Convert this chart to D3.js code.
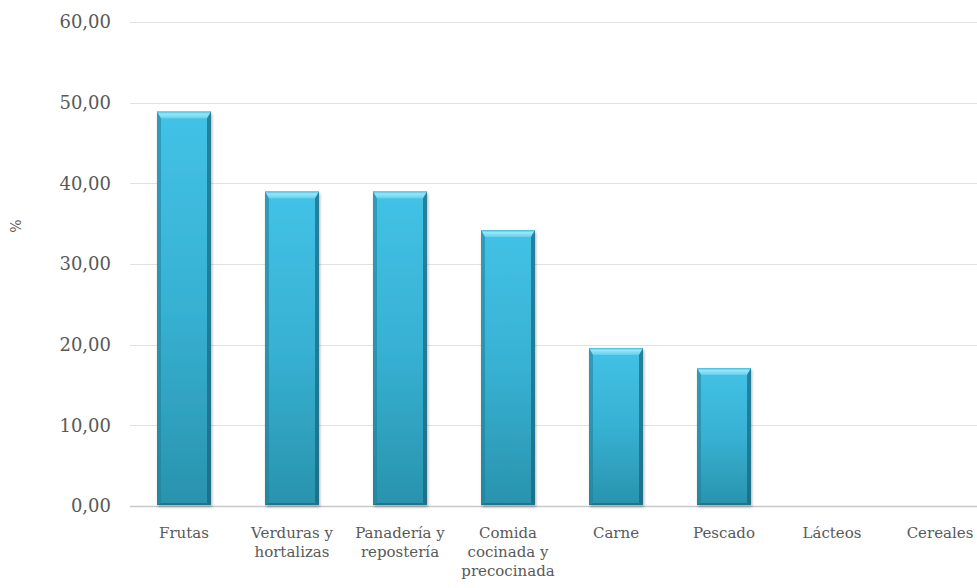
<!DOCTYPE html>
<html>
<head>
<meta charset="utf-8">
<script src="https://cdn.jsdelivr.net/npm/d3@7"></script>
<style>
  html, body { margin: 0; padding: 0; background: #fff; }
  svg { display: block; }
  text { font-family: "DejaVu Serif", "Liberation Serif", serif; fill: #595959; }
</style>
</head>
<body>
<svg id="chart" width="977" height="588"></svg>
<script>
// Food groups and share (%)
const categories = [
  ["Frutas"],
  ["Verduras y", "hortalizas"],
  ["Panadería y", "repostería"],
  ["Comida", "cocinada y", "precocinada"],
  ["Carne"],
  ["Pescado"],
  ["Lácteos"],
  ["Cereales"]
];
const values = [48.9, 39.0, 39.0, 34.2, 19.6, 17.1, 0, 0];
const yTicks = [0, 10, 20, 30, 40, 50, 60];
const yLabel = "%";

const svg = d3.select("#chart");
const W = 977, H = 588;
const margin = { left: 130, top: 22, bottom: 82 };
const keys = categories.map((c, i) => i);

const x = d3.scaleBand().domain(keys).range([margin.left, margin.left + 8 * 108]).paddingInner(0.5).paddingOuter(0.25);
const y = d3.scaleLinear().domain([0, 60]).range([H - margin.bottom, margin.top]);

// Gradients for the bevelled bars
const defs = svg.append("defs");
const gBody = defs.append("linearGradient").attr("id", "body").attr("x1", 0).attr("y1", 0).attr("x2", 0).attr("y2", 1);
gBody.append("stop").attr("offset", "0%").attr("stop-color", "#42c2e6");
gBody.append("stop").attr("offset", "50%").attr("stop-color", "#37b1d3");
gBody.append("stop").attr("offset", "100%").attr("stop-color", "#2993ad");
const gTop = defs.append("linearGradient").attr("id", "topBevel").attr("x1", 0).attr("y1", 0).attr("x2", 0).attr("y2", 1);
gTop.append("stop").attr("offset", "0%").attr("stop-color", "#3fbfe2");
gTop.append("stop").attr("offset", "35%").attr("stop-color", "#9ae6f8");
gTop.append("stop").attr("offset", "100%").attr("stop-color", "#5fd0ee");
const shadow = defs.append("filter").attr("id", "shadow").attr("x", "-20%").attr("y", "-5%").attr("width", "140%").attr("height", "115%");
shadow.append("feGaussianBlur").attr("in", "SourceAlpha").attr("stdDeviation", 1.5);
shadow.append("feOffset").attr("dx", 1).attr("dy", 1.5).attr("result", "b");
shadow.append("feComponentTransfer").append("feFuncA").attr("type", "linear").attr("slope", 0.3);
const merge = shadow.append("feMerge");
merge.append("feMergeNode");
merge.append("feMergeNode").attr("in", "SourceGraphic");

// Gridlines
svg.append("g").selectAll("line").data(yTicks).join("line")
  .attr("x1", margin.left).attr("x2", W)
  .attr("y1", d => Math.round(y(d)) + 0.5).attr("y2", d => Math.round(y(d)) + 0.5)
  .attr("stroke", d => d === 0 ? "#c8c8c8" : "#e2e2e2").attr("stroke-width", d => d === 0 ? 1.5 : 1);

// Y axis labels
const yAxis = d3.axisLeft(y).tickValues(yTicks).tickSize(0).tickPadding(0)
  .tickFormat(d => d3.format(".2f")(d).replace(".", ","));
const ya = svg.append("g").attr("transform", "translate(111,0)").call(yAxis);
ya.select(".domain").remove();
ya.selectAll("text").attr("font-size", 18).attr("font-family", "DejaVu Serif, serif").attr("fill", "#595959");

svg.append("text").attr("transform", `translate(21,226) rotate(-90)`)
  .attr("text-anchor", "middle").attr("font-size", 14).attr("fill", "#8a8a8a").text(yLabel);

// Bars
const barG = svg.append("g");
values.forEach((v, i) => {
  if (v <= 0) return;
  const bx = x(i), bw = x.bandwidth(), by = y(v), bh = y(0) - 1 - y(v);
  const g = barG.append("g");
  g.append("rect").attr("x", bx).attr("y", by).attr("width", bw).attr("height", bh)
    .attr("fill", "url(#body)").attr("filter", "url(#shadow)");
  const b = 7, s = 4;
  // top bevel
  g.append("path").attr("d", `M${bx},${by} L${bx + bw},${by} L${bx + bw - s},${by + b} L${bx + s},${by + b} Z`)
    .attr("fill", "url(#topBevel)");
  // side edges
  g.append("path").attr("d", `M${bx},${by} L${bx + s},${by + b} L${bx + s},${by + bh - 2} L${bx},${by + bh} Z`)
    .attr("fill", "#1f7d96").attr("opacity", 0.55);
  g.append("path").attr("d", `M${bx + bw},${by} L${bx + bw - s},${by + b} L${bx + bw - s},${by + bh - 2} L${bx + bw},${by + bh} Z`)
    .attr("fill", "#165f74").attr("opacity", 0.65);
  // bottom edge
  g.append("path").attr("d", `M${bx},${by + bh} L${bx + s},${by + bh - 2} L${bx + bw - s},${by + bh - 2} L${bx + bw},${by + bh} Z`)
    .attr("fill", "#1b5f73").attr("opacity", 0.6);
});

// Category labels
const xa = svg.append("g");
categories.forEach((lines, i) => {
  const t = xa.append("text").attr("text-anchor", "middle").attr("font-size", 15)
    .attr("x", x(i) + x.bandwidth() / 2).attr("y", 538);
  lines.forEach((ln, k) => t.append("tspan").attr("x", x(i) + x.bandwidth() / 2).attr("dy", k === 0 ? 0 : 19).text(ln));
});
</script>
</body>
</html>
